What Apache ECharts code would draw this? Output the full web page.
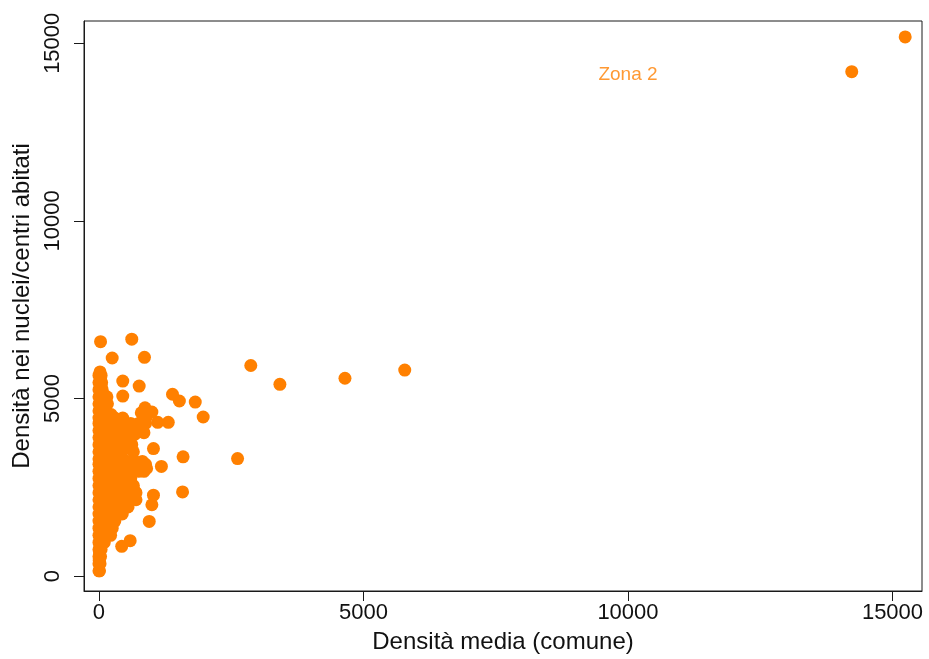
<!DOCTYPE html>
<html>
<head>
<meta charset="utf-8">
<script src="https://cdn.jsdelivr.net/npm/echarts@6/dist/echarts.min.js"></script>
<style>
html,body{margin:0;padding:0;background:#fff;}
#chart{width:929px;height:659px;}
</style>
</head>
<body>
<div id="chart"></div>
<script>
// Tick labels
const xTicks = [0, 5000, 10000, 15000];
const yTicks = [0, 5000, 10000, 15000];
const xTitle = 'Densità media (comune)';
const yTitle = 'Densità nei nuclei/centri abitati';
const zoneLabel = 'Zona 2';
const zoneLabelPos = [10000, 14100];

// Isolated points: x = densità media (comune), y = densità nei nuclei/centri abitati
const outlierX = [15240, 14230, 5780, 4650, 3420, 2870, 2620, 1580, 1590, 1970, 1820, 1520, 1390, 1310, 1110, 1030, 1180, 1030, 1000, 950, 590, 430, 30, 620, 250, 860, 450, 760, 450, 870, 900];
const outlierY = [15180, 14200, 5800, 5570, 5400, 5930, 3310, 2370, 3360, 4480, 4900, 4930, 5120, 4330, 4330, 3590, 3090, 2280, 2010, 1540, 1000, 840, 6600, 6670, 6140, 6160, 5490, 5350, 5070, 4740, 3030];

// Dense cluster near the origin (estimated)
const clusterX = [
  0, 40,
  0, 50,
  0, 60,
  0, 90, 150,
  0, 100, 160,
  0, 120, 800, 1000, 900,
  0, 150, 300, 450,
  0, 140, 300, 460, 600, 750, 880,
  0, 150, 310, 450, 600, 720, 850,
  0, 150, 300, 450, 600,
  0, 140, 300, 460, 620,
  0, 150, 300, 420, 650,
  0, 150, 300, 450,
  0, 150, 300, 450, 600, 750, 880,
  0, 140, 310, 450, 600, 750, 850,
  0, 150, 300, 450, 600,
  0, 150, 300, 460, 650,
  0, 150, 300, 450, 600, 700,
  0, 140, 300, 450, 600, 700,
  0, 150, 300, 450, 550,
  0, 150, 300, 440,
  0, 150, 300,
  0, 120, 250,
  0, 100, 220,
  0, 100,
  0, 40,
  0, 30,
  0, 20,
  0, 10
];
const clusterY = [
  5650, 5650,
  5450, 5450,
  5250, 5250,
  5050, 5050, 5050,
  4850, 4850, 4850,
  4650, 4650, 4600, 4620, 4500,
  4450, 4450, 4450, 4450,
  4300, 4300, 4300, 4300, 4300, 4300, 4300,
  4100, 4100, 4100, 4100, 4100, 4100, 4040,
  3900, 3900, 3900, 3900, 3900,
  3700, 3700, 3700, 3700, 3700,
  3500, 3500, 3500, 3500, 3500,
  3300, 3300, 3300, 3300,
  3150, 3150, 3150, 3150, 3150, 3150, 3150,
  2950, 2950, 2950, 2950, 2950, 2950, 2950,
  2750, 2750, 2750, 2750, 2750,
  2550, 2550, 2550, 2550, 2550,
  2350, 2350, 2350, 2350, 2350, 2350,
  2150, 2150, 2150, 2150, 2150, 2150,
  1950, 1950, 1950, 1950, 1950,
  1750, 1750, 1750, 1750,
  1550, 1550, 1550,
  1350, 1350, 1350,
  1150, 1150, 1150,
  950, 950,
  750, 750,
  550, 550,
  350, 350,
  150, 150
];

// Further cluster points lying between the rows above (estimated)
const fillX = [
  20, 30, 40, 70, 60, 80, 75, 230, 70, 220, 370, 75, 220, 380, 530, 680, 820,
  75, 225, 380, 530, 680, 75, 220, 380, 540, 75, 225, 380, 550, 75, 225, 370,
  75, 225, 380, 530, 680, 820, 75, 225, 380, 530, 680, 800, 75, 225, 380, 530,
  75, 225, 380, 560, 75, 225, 380, 530, 650, 75, 225, 380, 530, 650,
  75, 225, 380, 500, 75, 225, 380, 75, 225, 60, 180, 50, 150, 40, 20, 10, 5
];
const fillY = [
  5750, 5550, 5350, 5150, 4950, 4750, 4550, 4550, 4380, 4380, 4380, 4200, 4200, 4200, 4200, 4200, 4200,
  4000, 4000, 4000, 4000, 4000, 3800, 3800, 3800, 3800, 3600, 3600, 3600, 3600, 3400, 3400, 3400,
  3230, 3230, 3230, 3230, 3230, 3230, 3050, 3050, 3050, 3050, 3050, 3050, 2850, 2850, 2850, 2850,
  2650, 2650, 2650, 2650, 2450, 2450, 2450, 2450, 2450, 2250, 2250, 2250, 2250, 2250,
  2050, 2050, 2050, 2050, 1850, 1850, 1850, 1650, 1650, 1450, 1450, 1250, 1250, 1050, 850, 650, 450
];

const points = [];
outlierX.forEach((x, i) => points.push([x, outlierY[i]]));
clusterX.forEach((x, i) => points.push([x, clusterY[i]]));
fillX.forEach((x, i) => points.push([x, fillY[i]]));

const ORANGE = '#ff8000';
const TEXT = '#111';
const FONT = 'Liberation Sans';
const plain = v => String(v);

const chart = echarts.init(document.getElementById('chart'), null, {renderer: 'canvas'});
chart.setOption({
  animation: false,
  backgroundColor: '#fff',
  grid: {
    left: 84, right: 7, top: 21, bottom: 62,
    show: true, borderColor: '#1a1a1a', borderWidth: 1, backgroundColor: '#fff'
  },
  xAxis: {
    type: 'value',
    min: -283, max: 15558,
    name: xTitle,
    nameLocation: 'middle',
    nameGap: 39,
    nameTextStyle: {fontFamily: FONT, fontSize: 24, color: TEXT},
    axisLine: {show: true, onZero: false, lineStyle: {color: '#1a1a1a', width: 1}},
    axisTick: {show: true, customValues: xTicks, length: 10, lineStyle: {color: '#1a1a1a', width: 1}},
    axisLabel: {customValues: xTicks, formatter: plain, margin: 11, fontFamily: FONT, fontSize: 22, color: TEXT},
    splitLine: {show: false}
  },
  yAxis: {
    type: 'value',
    min: -418, max: 15627,
    name: yTitle,
    nameLocation: 'middle',
    nameGap: 45,
    nameTextStyle: {fontFamily: FONT, fontSize: 24, color: TEXT},
    axisLine: {show: true, onZero: false, lineStyle: {color: '#1a1a1a', width: 1}},
    axisTick: {show: true, customValues: yTicks, length: 10, lineStyle: {color: '#1a1a1a', width: 1}},
    axisLabel: {customValues: yTicks, formatter: plain, rotate: 90, margin: 20, fontFamily: FONT, fontSize: 22, color: TEXT},
    splitLine: {show: false}
  },
  series: [
    {
      type: 'scatter',
      data: points,
      symbol: 'circle',
      symbolSize: 13,
      itemStyle: {color: ORANGE, opacity: 1},
      z: 2
    },
    {
      type: 'scatter',
      data: [zoneLabelPos],
      symbolSize: 0,
      silent: true,
      label: {
        show: true, position: 'inside', formatter: zoneLabel,
        fontFamily: FONT, fontSize: 19, color: ORANGE
      },
      z: 3
    }
  ]
});
</script>
</body>
</html>
